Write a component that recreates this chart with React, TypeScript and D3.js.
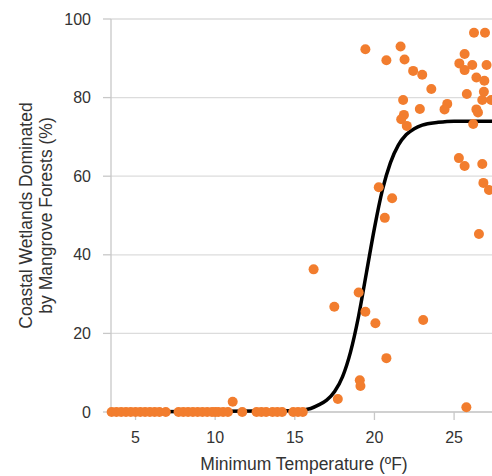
import React from "react";
import * as d3 from "d3";

const W = 492;
const H = 476;

// Scatter observations: minimum temperature (ºF) and % mangrove dominance
const pointTemps = [
  3.5, 3.8, 4.1, 4.4, 4.7, 5.0, 5.3, 5.6, 5.9, 6.2, 6.5, 6.9,
  7.7, 8.0, 8.3, 8.6, 8.9, 9.2, 9.5, 9.8, 10.0, 10.2, 10.5, 10.8,
  11.7, 12.6, 12.9, 13.2, 13.6, 13.9, 14.2, 14.9, 15.2, 15.5,
  11.1,
  19.43, 21.64, 20.75, 21.89, 22.43, 23.0, 23.57, 21.8, 22.85, 24.57, 24.4,
  21.85, 21.68, 22.03, 26.25, 26.94, 25.66, 25.33, 25.66, 26.14, 27.04,
  26.4, 26.9, 25.8, 26.87, 26.77, 27.33, 26.4, 26.5, 26.2, 25.3, 25.66,
  26.77, 26.84, 27.19, 26.56, 20.27, 21.11, 20.65, 16.18, 19.01, 17.48,
  19.43, 20.06, 23.06, 20.75, 19.08, 19.12, 17.7, 25.77,
];
const pointShares = [
  0, 0, 0, 0, 0, 0, 0, 0, 0, 0, 0, 0,
  0, 0, 0, 0, 0, 0, 0, 0, 0, 0, 0, 0,
  0, 0, 0, 0, 0, 0, 0, 0, 0, 0,
  2.6,
  92.3, 93.0, 89.5, 89.7, 86.8, 85.8, 82.2, 79.4, 77.1, 78.4, 77.0,
  75.6, 74.5, 72.8, 96.5, 96.5, 91.1, 88.7, 87.0, 88.3, 88.3,
  85.1, 84.3, 80.9, 81.5, 79.4, 79.4, 77.0, 76.2, 73.3, 64.6, 62.6,
  63.1, 58.3, 56.5, 45.3, 57.2, 54.4, 49.4, 36.3, 30.4, 26.8,
  25.5, 22.6, 23.4, 13.7, 8.1, 6.6, 3.3, 1.2,
];

// Fitted curve
const curveTemps = [3.46, 15.0, 16.0, 16.5, 17.0, 17.5, 18.0, 18.5, 19.0, 19.5, 20.0, 20.5, 21.0, 21.5, 22.0, 22.5, 23.0, 24.0, 25.0, 27.38];
const curveShares = [0, 0.3, 0.9, 1.8, 3.0, 5.2, 9.0, 15.3, 24.3, 35.5, 46.8, 56.5, 63.4, 67.9, 70.6, 72.1, 73.0, 73.7, 74.0, 74.0];

const xTicks = [5, 10, 15, 20, 25];
const yTicks = [0, 20, 40, 60, 80, 100];

const FONT = "'Liberation Sans', Arial, Helvetica, sans-serif";

export default function App() {
  const left = 111;
  const x = d3.scaleLinear().domain([3.46, 27.38]).range([left, W]);
  const y = d3.scaleLinear().domain([0, 100]).range([412, 19]);

  const curveData = curveTemps.map((t, i) => [t, curveShares[i]] as [number, number]);
  const line = d3
    .line<[number, number]>()
    .x((d) => x(d[0]))
    .y((d) => y(d[1]))
    .curve(d3.curveMonotoneX);

  return (
    <svg
      width={W}
      height={H}
      style={{ position: "absolute", left: 0, top: 0, background: "#fff" }}
      fontFamily={FONT}
    >
      {/* gridlines */}
      {yTicks.map((t) => (
        <g key={"g" + t}>
          <line x1={left} x2={W} y1={y(t)} y2={y(t)} stroke="#dcdcdc" strokeWidth={1.3} />
          <line x1={left - 8} x2={left} y1={y(t)} y2={y(t)} stroke="#c8c8c8" strokeWidth={1.3} />
          <text x={left - 20} y={y(t)} dy="0.35em" textAnchor="end" fontSize={16} fill="#333">
            {t}
          </text>
        </g>
      ))}
      {/* y axis line */}
      <line x1={left} x2={left} y1={y(100)} y2={y(0)} stroke="#c8c8c8" strokeWidth={1.3} />
      {/* x axis */}
      <line x1={left} x2={W} y1={y(0)} y2={y(0)} stroke="#c8c8c8" strokeWidth={1.3} />
      {xTicks.map((t) => (
        <g key={"x" + t}>
          <line x1={x(t)} x2={x(t)} y1={y(0)} y2={y(0) + 8} stroke="#c8c8c8" strokeWidth={1.3} />
          <text x={x(t)} y={443} textAnchor="middle" fontSize={16} fill="#333">
            {t}
          </text>
        </g>
      ))}
      {/* axis titles */}
      <text x={304} y={470} textAnchor="middle" fontSize={17.5} fill="#333">
        Minimum Temperature (ºF)
      </text>
      <g transform={`translate(0, ${(y(0) + y(100)) / 2}) rotate(-90)`}>
        <text x={0} y={32} textAnchor="middle" fontSize={17.5} fill="#333">
          Coastal Wetlands Dominated
        </text>
        <text x={0} y={52} textAnchor="middle" fontSize={17.5} fill="#333">
          by Mangrove Forests (%)
        </text>
      </g>
      {/* fitted curve */}
      <path d={line(curveData) || ""} fill="none" stroke="#000" strokeWidth={3.5} />
      {/* points */}
      {pointTemps.map((t, i) => (
        <circle key={"p" + i} cx={x(t)} cy={y(pointShares[i])} r={5} fill="#F27D2E" />
      ))}
    </svg>
  );
}
